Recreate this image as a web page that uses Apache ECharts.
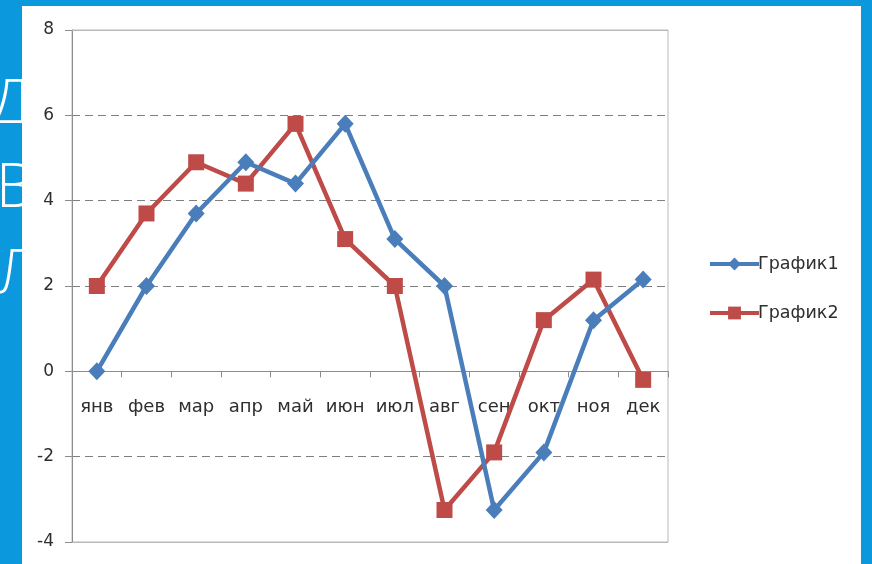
<!DOCTYPE html>
<html>
<head>
<meta charset="utf-8">
<script src="https://cdn.jsdelivr.net/npm/echarts@6/dist/echarts.min.js"></script>
<style>
  html, body { margin: 0; padding: 0; background: #0c98dd; }
  #chart { width: 872px; height: 564px; }
</style>
</head>
<body>
<div id="chart"></div>
<script>
// Months along the category axis
const months = ['янв', 'фев', 'мар', 'апр', 'май', 'июн', 'июл', 'авг', 'сен', 'окт', 'ноя', 'дек'];

// Series values
const series1Name = 'График1';
const series1 = [0, 2, 3.7, 4.9, 4.4, 5.8, 3.1, 2, -3.25, -1.9, 1.2, 2.15];
const series2Name = 'График2';
const series2 = [2, 3.7, 4.9, 4.4, 5.8, 3.1, 2, -3.25, -1.9, 1.2, 2.15, -0.2];

// Value axis range
const yMin = -4;
const yMax = 8;
const yStep = 2;

// Slide heading letters peeking out beside the chart panel
const sideLetters = ['Д', 'В', 'Л'];

const blue = '#4a7ebb';
const red = '#be4b48';
const textColor = '#2e2e2e';
const fontFamily = '"DejaVu Sans", sans-serif';

// Plot box inside the white panel
const gridBox = { left: 72, right: 204, top: 30, bottom: 22 };
const plotHeight = 564 - gridBox.top - gridBox.bottom;
// Category axis sits on the zero line; shift it up from the bottom edge
const zeroOffset = -plotHeight * (0 - yMin) / (yMax - yMin);

const chart = echarts.init(document.getElementById('chart'), null, { renderer: 'canvas' });

const letterFont = '300 60px "Open Sans", "Lato", sans-serif';

chart.setOption({
  animation: false,
  backgroundColor: '#0c98dd',
  graphic: [
    { type: 'text', left: -9, top: 76, z: -20, style: { text: sideLetters[0], fill: '#ffffff', font: letterFont } },
    { type: 'text', left: -4, top: 160, z: -20, style: { text: sideLetters[1], fill: '#ffffff', font: letterFont } },
    { type: 'text', left: -3, top: 246, z: -20, style: { text: sideLetters[2], fill: '#ffffff', font: letterFont } },
    { type: 'rect', left: 22, top: 6, z: -10, shape: { width: 839, height: 570 }, style: { fill: '#ffffff' } }
  ],
  grid: Object.assign({
    show: true, borderColor: '#b8b8b8', borderWidth: 1, backgroundColor: 'transparent',
    outerBoundsMode: 'none', containLabel: false
  }, gridBox),
  legend: {
    orient: 'vertical',
    left: 703, top: 250,
    itemWidth: 49, itemHeight: 16, itemGap: 31,
    lineStyle: { width: 4 },
    textStyle: { color: textColor, fontSize: 17.5, fontFamily: fontFamily, padding: [0, 0, 0, -6] },
    data: [series1Name, series2Name]
  },
  xAxis: {
    type: 'category',
    data: months,
    boundaryGap: true,
    position: 'bottom',
    offset: zeroOffset,
    axisLine: { onZero: false, lineStyle: { color: '#8c8c8c', width: 1 } },
    axisTick: { show: true, interval: 0, length: 6, lineStyle: { color: '#8c8c8c' } },
    axisLabel: { interval: 0, margin: 27, color: textColor, fontSize: 18, fontFamily: fontFamily },
    splitLine: { show: false }
  },
  yAxis: {
    type: 'value',
    min: yMin, max: yMax, interval: yStep,
    axisLine: { show: true, onZero: false, lineStyle: { color: '#8c8c8c', width: 1 } },
    axisTick: { show: true, length: 7, lineStyle: { color: '#8c8c8c' } },
    axisLabel: { margin: 18, color: textColor, fontSize: 17, fontFamily: fontFamily },
    splitLine: { show: true, lineStyle: { color: '#7f7f7f', type: [8, 5], width: 1 } }
  },
  series: [
    {
      name: series1Name,
      type: 'line',
      data: series1,
      symbol: 'diamond',
      symbolSize: [17, 18],
      lineStyle: { color: blue, width: 4.5 },
      itemStyle: { color: blue },
      z: 3,
      markLine: {
        silent: true, symbol: 'none', label: { show: false },
        lineStyle: { color: '#b8b8b8', type: 'solid', width: 1 },
        data: [{ yAxis: yMax }, { yAxis: yMin }]
      }
    },
    {
      name: series2Name,
      type: 'line',
      data: series2,
      symbol: 'rect',
      symbolSize: 16,
      lineStyle: { color: red, width: 4.5 },
      itemStyle: { color: red },
      z: 2
    }
  ]
});
</script>
</body>
</html>
